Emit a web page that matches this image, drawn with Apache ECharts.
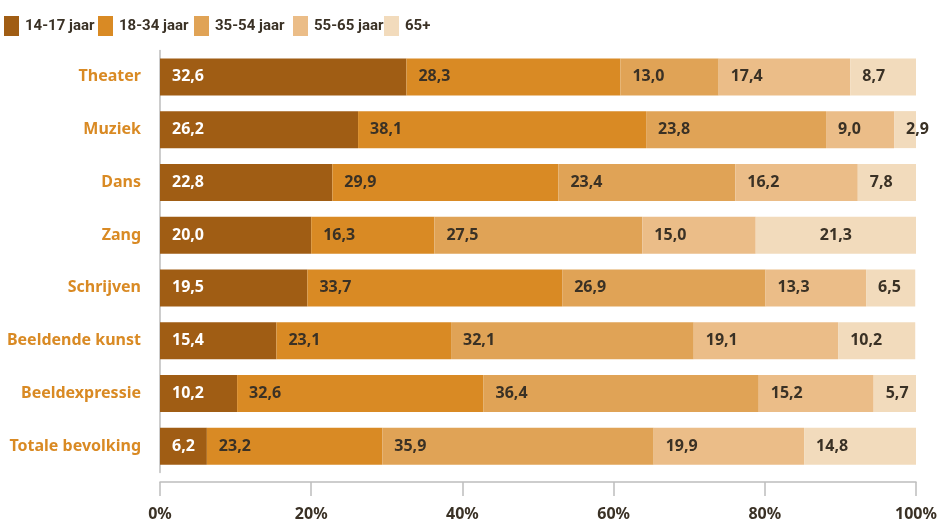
<!DOCTYPE html>
<html>
<head>
<meta charset="utf-8">
<script src="https://cdn.jsdelivr.net/npm/echarts@6/dist/echarts.min.js"></script>
<style>
html,body{margin:0;padding:0;background:#fff;}
#chart{width:950px;height:522px;}
</style>
</head>
<body>
<div id="chart"></div>
<script>
var categories = ['Theater','Muziek','Dans','Zang','Schrijven','Beeldende kunst','Beeldexpressie','Totale bevolking'];
var seriesNames = ['14-17 jaar','18-34 jaar','35-54 jaar','55-65 jaar','65+'];
var age1417 = [32.6, 26.2, 22.8, 20.0, 19.5, 15.4, 10.2, 6.2];
var age1834 = [28.3, 38.1, 29.9, 16.3, 33.7, 23.1, 32.6, 23.2];
var age3554 = [13.0, 23.8, 23.4, 27.5, 26.9, 32.1, 36.4, 35.9];
var age5565 = [17.4, 9.0, 16.2, 15.0, 13.3, 19.1, 15.2, 19.9];
var age65plus = [8.7, 2.9, 7.8, 21.3, 6.5, 10.2, 5.7, 14.8];
var xTicks = [0, 20, 40, 60, 80, 100];

var seriesValues = [age1417, age1834, age3554, age5565, age65plus];
var colors = ['#A05D14', '#D98A24', '#E0A356', '#EBBD88', '#F2DBBC'];
var labelColors = ['#ffffff', '#3A3125', '#3A3125', '#3A3125', '#3A3125'];
var legendLeft = [4, 98, 194, 293, 384];
var fontFamily = '"Noto Sans", "Open Sans", sans-serif';

function fmt(v){ return v.toFixed(1).replace('.', ','); }

var series = seriesValues.map(function(vals, i){
  return {
    name: seriesNames[i],
    type: 'bar',
    stack: 'total',
    barWidth: 37,
    itemStyle: { color: colors[i] },
    label: {
      show: true,
      position: 'insideLeft',
      distance: 12,
      color: labelColors[i],
      fontFamily: fontFamily,
      fontWeight: 'bold',
      fontSize: 16,
      formatter: function(p){ return fmt(p.value); }
    },
    data: vals.map(function(v, j){
      if (i === 4 && categories[j] === 'Zang') {
        return { value: v, label: { position: 'inside' } };
      }
      return v;
    })
  };
});

var legends = seriesNames.map(function(n, i){
  return {
    data: [n],
    left: legendLeft[i],
    top: 16,
    padding: 0,
    itemWidth: 15,
    itemHeight: 20,
    itemGap: 6,
    icon: 'rect',
    selectedMode: false,
    textStyle: {
      color: '#3A3125',
      fontFamily: 'Roboto, "Noto Sans", sans-serif',
      fontWeight: 'bold',
      fontSize: 15,
      padding: [0, 0, 0, 1]
    }
  };
});

var chart = echarts.init(document.getElementById('chart'), null, {renderer: 'canvas'});
chart.setOption({
  animation: false,
  backgroundColor: '#ffffff',
  color: colors,
  legend: legends,
  grid: { left: 160, right: 34, top: 50.5, bottom: 48.5, containLabel: false },
  xAxis: {
    type: 'value',
    min: xTicks[0],
    max: xTicks[xTicks.length - 1],
    interval: xTicks[1] - xTicks[0],
    offset: 9.5,
    axisLine: { show: true, lineStyle: { color: '#BDBDBD', width: 1.5 } },
    axisTick: { show: true, length: 14, lineStyle: { color: '#BDBDBD', width: 1.5 } },
    splitLine: { show: false },
    axisLabel: {
      margin: 24,
      color: '#3A3125',
      fontFamily: fontFamily,
      fontWeight: 'bold',
      fontSize: 16,
      formatter: function(v){ return v + '%'; }
    }
  },
  yAxis: {
    type: 'category',
    inverse: true,
    data: categories,
    axisLine: { show: true, lineStyle: { color: '#BDBDBD', width: 1.5 } },
    axisTick: { show: false },
    axisLabel: {
      margin: 19,
      color: '#D98A24',
      fontFamily: fontFamily,
      fontWeight: 'bold',
      fontSize: 16
    }
  },
  series: series
});
</script>
</body>
</html>
